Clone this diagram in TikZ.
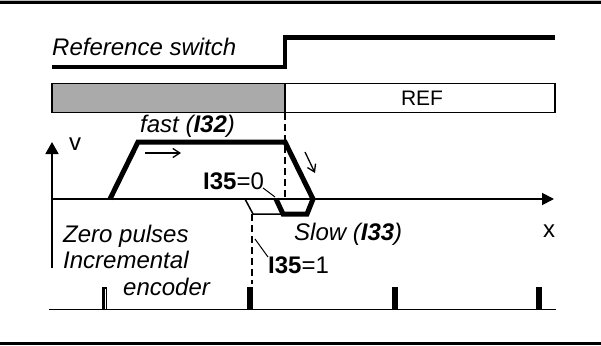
\documentclass[tikz,border=0pt]{standalone}
\usepackage{fontspec}
\setmainfont{Liberation Sans}
\usetikzlibrary{arrows.meta}
\definecolor{bargray}{RGB}{170,170,170}
\definecolor{framegray}{RGB}{190,190,190}
\tikzset{
  lbl/.style={inner sep=0pt, anchor=base west, font=\fontsize{24}{26}\selectfont},
  ilbl/.style={lbl, font=\fontsize{24}{26}\selectfont\itshape},
  axisline/.style={line width=1.8pt},
  thick path/.style={line width=5pt, line join=miter},
  signal/.style={line width=4.5pt},
  leader/.style={line width=1pt},
  dashv/.style={line width=2pt, dash pattern=on 7pt off 4pt},
  pulse/.style={fill=black, draw=none},
  smallarrow/.style={line width=1.3pt, -{Straight Barb[length=7pt,width=9pt]}},
}
\begin{document}
\begin{tikzpicture}[x=1pt,y=-1pt]
\useasboundingbox (0,0) rectangle (601,345);
% frame
\fill[framegray] (0,0) rectangle (601,1.5);
\fill[black] (0,1.5) rectangle (601,4);
\fill[black] (0,342) rectangle (601,345);
% reference switch signal
\node[ilbl] (refsw) at (52,56) {Reference switch};
\draw[signal] (52,67) -- (285,67) -- (285,37.5) -- (555,37.5);
% bars
\draw[line width=1.5pt, fill=bargray] (52,83.5) rectangle (285,112.5);
\draw[line width=1.5pt] (285,83.5) rectangle (555,112.5);
\node[lbl, anchor=base, font=\fontsize{21}{24}\selectfont] (ref) at (422,105) {REF};
% axes
\coordinate (vbot) at (52,268);
\coordinate (vtop) at (52,142);
\coordinate (xl) at (52,199);
\coordinate (xr) at (554,199);
\draw[axisline, -{Triangle[length=12pt,width=13pt]}] (vbot) -- (vtop);
\draw[axisline, -{Triangle[length=12pt,width=12pt]}] (xl) -- (xr);
\node[lbl] (vlab) at (69,150) {v};
\node[lbl] (xlab) at (543,237) {x};
% velocity profile
\draw[line width=1.5pt] (245,199) -- (253,214) -- (283,214);
\draw[thick path] (110,199) -- (138,142) -- (285,142) -- (313,199) -- (307,214) -- (283,214) -- (276,199);
% dashed lines
\draw[dashv] (285,113) -- (285,199);
\draw[dashv] (252,214) -- (252,284);
% small arrows
\draw[smallarrow] (145,153) -- (181,153);
\draw[smallarrow] (305,152) -- (315,173);
% labels
\node[ilbl] (fast) at (140,132.5) {fast (\textbf{I32})};
\node[ilbl] (slow) at (294,240) {Slow (\textbf{I33})};
\node[lbl] (i350) at (203,189) {\textbf{I35}=0};
\node[lbl] (i351) at (268,273) {\textbf{I35}=1};
\draw[leader] (263,188) -- (275,197);
\draw[leader] (255,239) -- (268,257);
\node[ilbl] (zero) at (63,242) {Zero pulses};
\node[ilbl] (incr) at (63,268) {Incremental};
\node[ilbl] (enc) at (123,295) {encoder};
% encoder pulses
\draw[line width=1.8pt] (49,309.5) -- (556,309.5);
\fill[pulse] (102,287) rectangle (107,310);
\draw[white, line width=0.6pt] (105,289) -- (105,309);
\fill[pulse] (247,287) rectangle (253,310);
\fill[pulse] (392,287) rectangle (398,310);
\fill[pulse] (536,287) rectangle (542,310);
\end{tikzpicture}
\end{document}
